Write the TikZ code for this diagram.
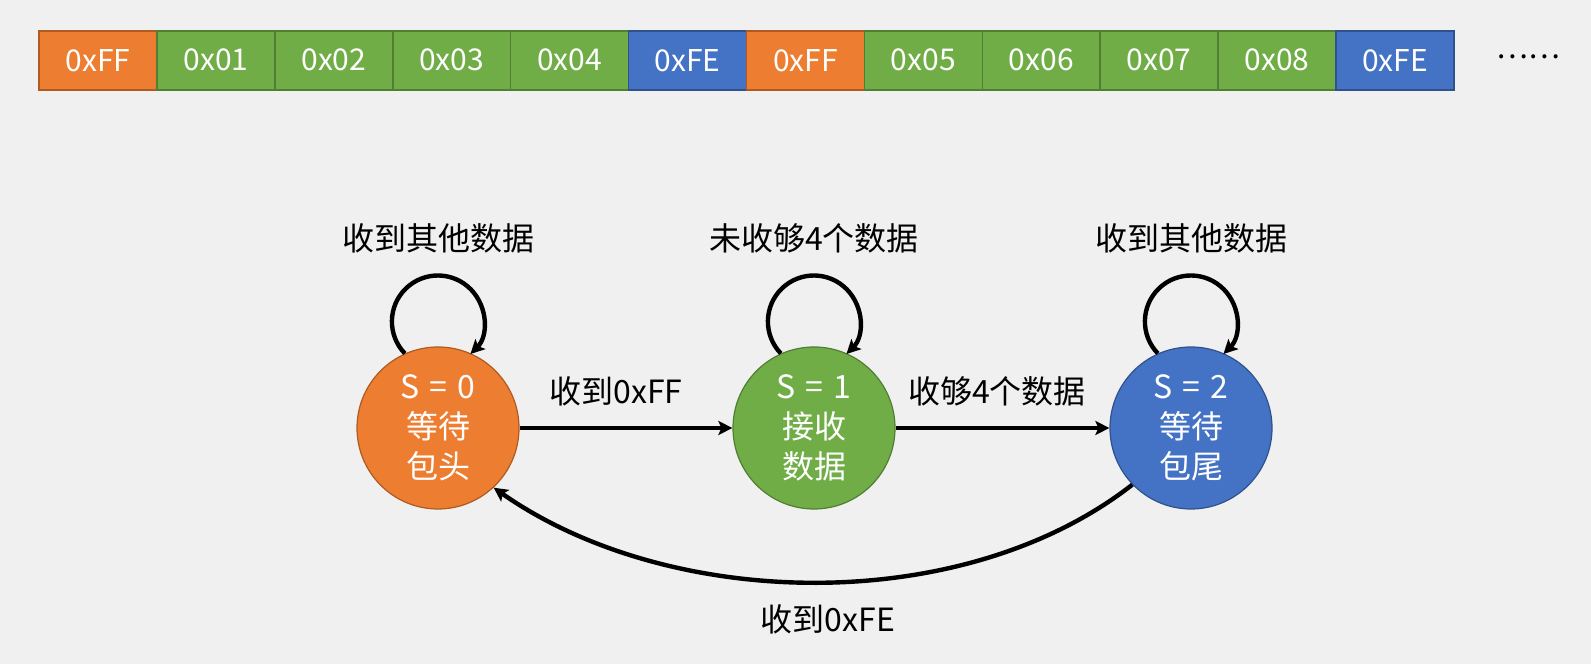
\documentclass[tikz,border=0pt]{standalone}
\usepackage{fontspec}
\setmainfont{Noto Sans CJK SC}
\usetikzlibrary{arrows.meta}
\definecolor{bg}{RGB}{240,240,240}
\definecolor{oFill}{HTML}{ED7D31}\definecolor{oLine}{HTML}{AE5A21}
\definecolor{gFill}{HTML}{70AD47}\definecolor{gLine}{HTML}{507E32}
\definecolor{bFill}{HTML}{4472C4}\definecolor{bLine}{HTML}{2F528F}
\newcommand{\eqsp}{\hspace{0.32em}}
\begin{document}
\begin{tikzpicture}[x=1pt,y=1pt,
  cell/.style={minimum width=117.9pt, minimum height=59pt, inner sep=0pt, line width=1.5pt,
    text=white, font=\fontsize{30}{30}\selectfont, anchor=west},
  ocell/.style={cell, fill=oFill, draw=oLine},
  gcell/.style={cell, fill=gFill, draw=gLine},
  bcell/.style={cell, fill=bFill, draw=bLine},
  state/.style={circle, minimum size=162pt, inner sep=0pt, line width=1.2pt, text=white,
    align=center, font=\fontsize{32}{40}\selectfont},
  lbl/.style={font=\fontsize{32}{32}\selectfont, text=black, inner sep=0pt},
  arr/.style={line width=4.4pt, -{Stealth[length=14pt,width=14pt,inset=3pt]}}]
\fill[bg] (0,0) rectangle (1591,664);
\useasboundingbox (0,0) rectangle (1591,664);
% byte stream
\node[ocell] (c1)  at (38.3,603.7) {0xFF};
\node[gcell] (c2)  at (156.2,603.7) {0x01};
\node[gcell] (c3)  at (274.1,603.7) {0x02};
\node[gcell] (c4)  at (392.0,603.7) {0x03};
\node[gcell] (c5)  at (509.9,603.7) {0x04};
\node[bcell] (c6)  at (627.8,603.7) {0xFE};
\node[ocell] (c7)  at (745.7,603.7) {0xFF};
\node[gcell] (c8)  at (863.6,603.7) {0x05};
\node[gcell] (c9)  at (981.5,603.7) {0x06};
\node[gcell] (c10) at (1099.4,603.7) {0x07};
\node[gcell] (c11) at (1217.3,603.7) {0x08};
\node[bcell] (c12) at (1335.2,603.7) {0xFE};
\node[lbl, font=\fontsize{30}{30}\selectfont] (dots) at (1528,607) {……};
% states
\node[state, fill=oFill, draw=oLine] (s0) at (438,236) {S\eqsp=\eqsp0\\等待\\包头};
\node[state, fill=gFill, draw=gLine] (s1) at (814,236) {S\eqsp=\eqsp1\\接收\\数据};
\node[state, fill=bFill, draw=bLine] (s2) at (1191,236) {S\eqsp=\eqsp2\\等待\\包尾};
% self loops
\draw[arr] (s0.114) arc[start angle=224, end angle=-45, radius=46];
\draw[arr] (s1.114) arc[start angle=224, end angle=-45, radius=46];
\draw[arr] (s2.114) arc[start angle=224, end angle=-45, radius=46];
\node[lbl] (l0) at (438,426) {收到其他数据};
\node[lbl] (l1) at (814,426) {未收够4个数据};
\node[lbl] (l2) at (1191,426) {收到其他数据};
% transitions
\draw[arr] (s0) -- (s1);
\draw[arr] (s1) -- (s2);
\draw[arr] (s2.224) to[out=218,in=-35,looseness=0.86] (s0.313);
\node[lbl] (t01) at (616,273) {收到0xFF};
\node[lbl] (t12) at (997,273) {收够4个数据};
\node[lbl] (t20) at (828,45) {收到0xFE};
\end{tikzpicture}
\end{document}
